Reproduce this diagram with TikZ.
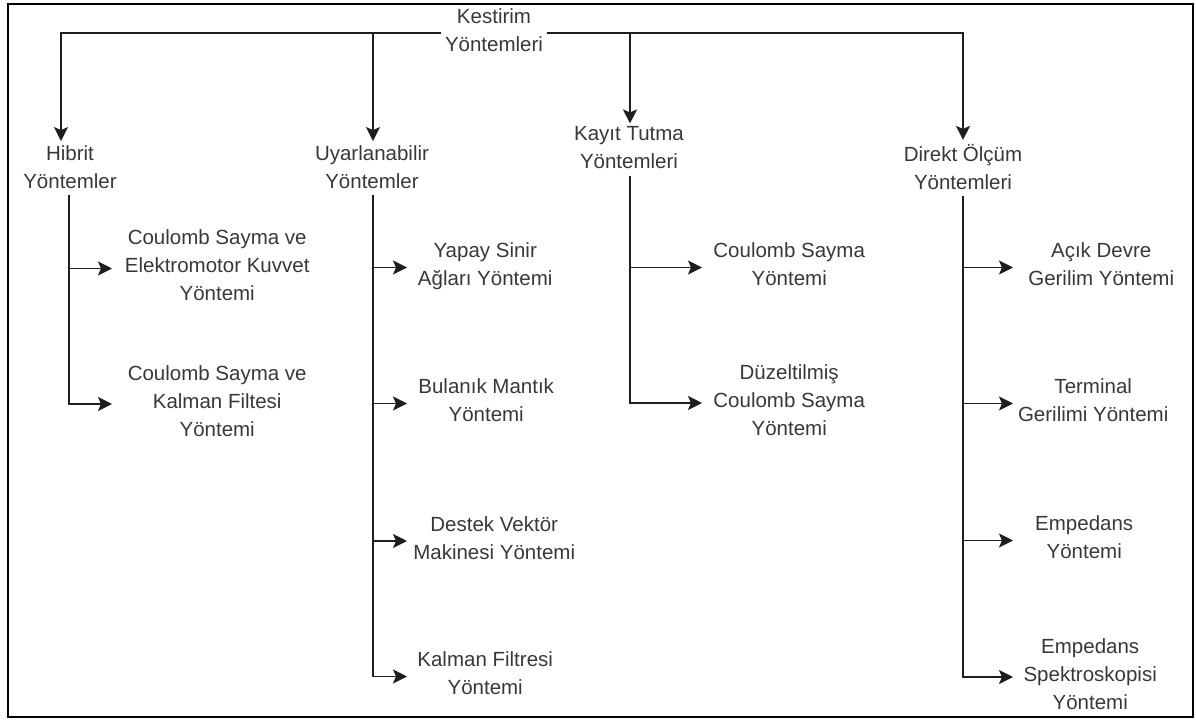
\documentclass[tikz,border=0pt]{standalone}
\usepackage{fontspec}
\setmainfont{Liberation Sans}
\usetikzlibrary{arrows.meta}
\definecolor{linegray}{HTML}{1E1E1E}
\definecolor{textgray}{HTML}{383838}
% strut whose centre sits on the visual middle of a text line
\newcommand\lnstrut{\rule[-6.6pt]{0pt}{28pt}}
\begin{document}
\begin{tikzpicture}[x=1pt,y=-1pt,
  txt/.style={font=\fontsize{20.5}{28}\selectfont, text=textgray, align=center,
    inner sep=0pt, execute at begin node=\lnstrut, execute at end node=\lnstrut},
  leaf/.style={txt, anchor=west},
  link/.style={draw=linegray, line width=1.8pt},
  arr/.style={link, -{Stealth[length=14pt,width=14pt,inset=3pt]}},
  headarr/.style={arr, shorten >=4pt},
]
\useasboundingbox (0,0) rectangle (1196,720);
% outer frame
\draw[black, line width=2pt] (7.5,3.5) rectangle (1193,716.5);

% root and the four method groups
\node[txt, inner xsep=3.5pt] (root) at (494,33) {Kestirim\\Yöntemleri};
\node[txt] (hib) at (70,170) {Hibrit\\Yöntemler};
\node[txt] (uya) at (372,170) {Uyarlanabilir\\Yöntemler};
\node[txt] (kay) at (629,151) {Kayıt Tutma\\Yöntemleri};
\node[txt] (dir) at (963,170) {Direkt Ölçüm\\Yöntemleri};

\draw[headarr] (root.west) -| ([xshift=-9pt]hib.north);
\draw[headarr] (root.west) -| ([xshift=1pt]uya.north);
\draw[headarr, shorten >=3pt] (root.east) -| ([xshift=1pt]kay.north);
\draw[headarr] (root.east) -| (dir.north);

% hybrid methods
\node[leaf, minimum width=210pt] (h1) at (112,268.5) {Coulomb Sayma ve\\Elektromotor Kuvvet\\Yöntemi};
\node[leaf, minimum width=210pt] (h2) at (112,404) {Coulomb Sayma ve\\Kalman Filtesi\\Yöntemi};
\draw[arr] ([xshift=-1pt]hib.south) |- (h1.west);
\draw[arr] ([xshift=-1pt]hib.south) |- (h2.west);

% adaptive methods
\node[leaf, minimum width=156pt] (u1) at (407,267.5) {Yapay Sinir\\Ağları Yöntemi};
\node[leaf, minimum width=158pt] (u2) at (407,403.5) {Bulanık Mantık\\Yöntemi};
\node[leaf, minimum width=174pt] (u3) at (407,541) {Destek Vektör\\Makinesi Yöntemi};
\node[leaf, minimum width=156pt] (u4) at (407,676.5) {Kalman Filtresi\\Yöntemi};
\draw[arr] ([xshift=1pt]uya.south) |- (u1.west);
\draw[arr] ([xshift=1pt]uya.south) |- (u2.west);
\draw[arr] ([xshift=1pt]uya.south) |- (u3.west);
\draw[arr] ([xshift=1pt]uya.south) |- (u4.west);

% bookkeeping methods
\node[leaf, minimum width=174pt] (k1) at (702,267.5) {Coulomb Sayma\\Yöntemi};
\node[leaf, minimum width=174pt] (k2) at (702,403) {Düzeltilmiş\\Coulomb Sayma\\Yöntemi};
\draw[arr] ([xshift=1pt]kay.south) |- (k1.west);
\draw[arr] ([xshift=1pt]kay.south) |- (k2.west);

% direct measurement methods
\node[leaf, minimum width=176pt] (d1) at (1013,267.5) {Açık Devre\\Gerilim Yöntemi};
\node[leaf, minimum width=160pt] (d2) at (1013,403.5) {Terminal\\Gerilimi Yöntemi};
\node[leaf, minimum width=142pt] (d3) at (1013,540.5) {Empedans\\Yöntemi};
\node[leaf, minimum width=154pt] (d4) at (1013,677) {Empedans\\Spektroskopisi\\Yöntemi};
\draw[arr] (dir.south) |- (d1.west);
\draw[arr] (dir.south) |- (d2.west);
\draw[arr] (dir.south) |- (d3.west);
\draw[arr] (dir.south) |- (d4.west);
\end{tikzpicture}
\end{document}
